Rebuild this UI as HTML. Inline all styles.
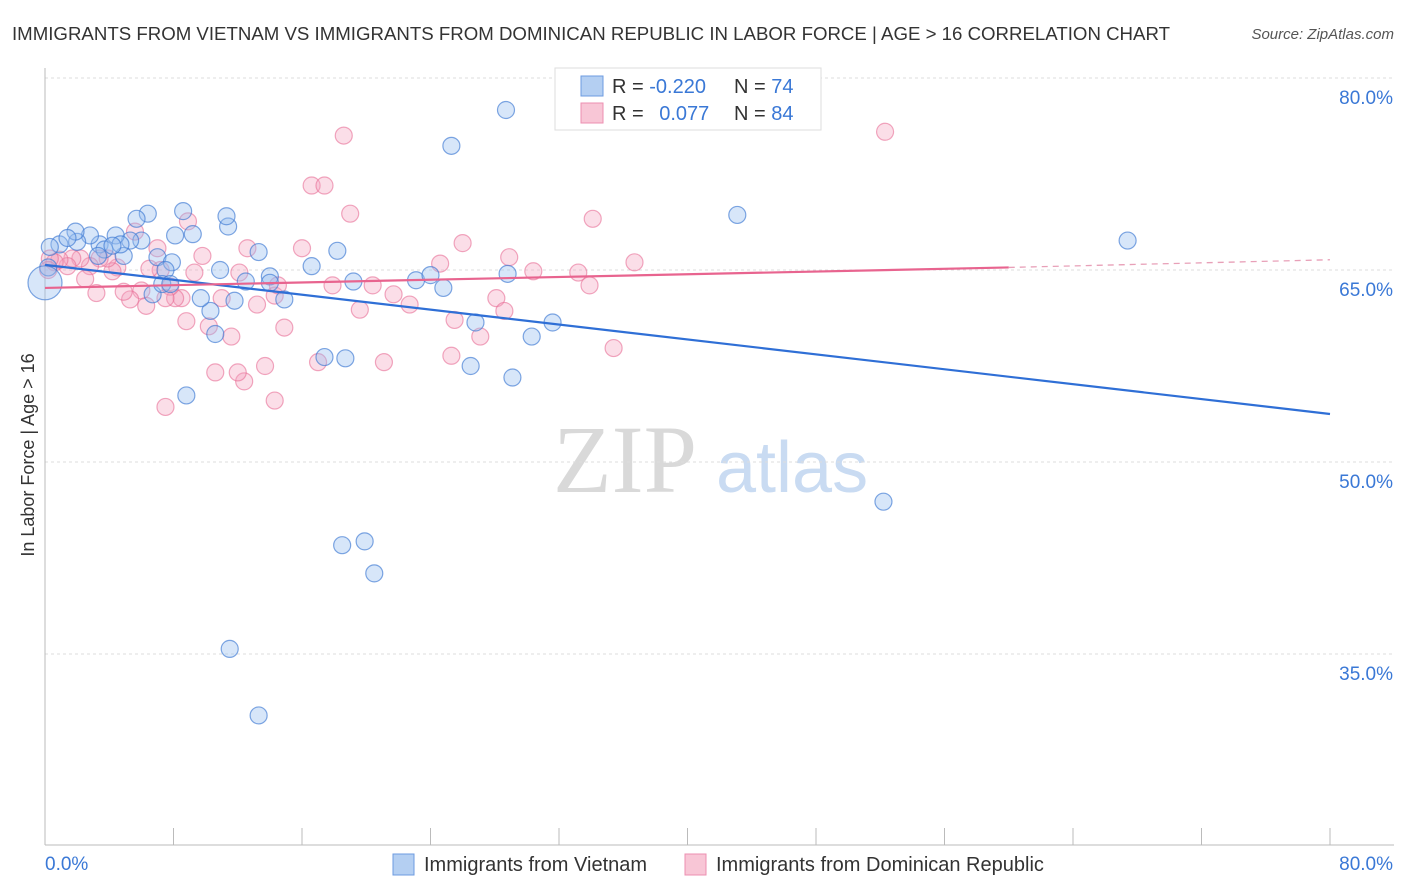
<!DOCTYPE html>
<html><head><meta charset="utf-8">
<style>
body{margin:0;background:#fff;font-family:"Liberation Sans",sans-serif;}
#wrap{position:relative;width:1406px;height:892px;overflow:hidden;}
</style></head>
<body>
<div id="wrap">
<svg id="chart" width="1406" height="892">
  <text x="12" y="40" font-size="18" fill="#333" textLength="1158" lengthAdjust="spacingAndGlyphs">IMMIGRANTS FROM VIETNAM VS IMMIGRANTS FROM DOMINICAN REPUBLIC IN LABOR FORCE | AGE &gt; 16 CORRELATION CHART</text>
  <text x="1394" y="39" font-size="15" fill="#555" text-anchor="end" font-style="italic">Source: ZipAtlas.com</text>
  <g>
    <text x="553" y="492" font-size="96" font-family="Liberation Serif,serif" fill="#d9d9d9">ZIP</text>
    <text x="716" y="492" font-size="72" fill="#c9dbf2">atlas</text>
  </g>
  <g id="grid"></g>
  <g id="axes"></g>
  <g id="pts"></g>
  <g id="lines"></g>
  <g>
    <rect x="555" y="68" width="266" height="62" fill="#fff" stroke="#ddd"/>
    <rect x="581" y="76" width="22" height="20" fill="#b4cff2" stroke="#6d9be0"/>
    <rect x="581" y="103" width="22" height="20" fill="#f8c6d6" stroke="#ec8fb0"/>
    <text x="612" y="93" font-size="20" fill="#333">R = <tspan fill="#3a78d6">-0.220</tspan></text>
    <text x="734" y="93" font-size="20" fill="#333">N = <tspan fill="#3a78d6">74</tspan></text>
    <text x="612" y="120" font-size="20" fill="#333">R = <tspan fill="#3a78d6" dx="10">0.077</tspan></text>
    <text x="734" y="120" font-size="20" fill="#333">N = <tspan fill="#3a78d6">84</tspan></text>
  </g>
  <g>
    <rect x="393" y="854" width="21" height="21" fill="#b4cff2" stroke="#6d9be0"/>
    <text x="424" y="871" font-size="20" fill="#333">Immigrants from Vietnam</text>
    <rect x="685" y="854" width="21" height="21" fill="#f8c6d6" stroke="#ec8fb0"/>
    <text x="716" y="871" font-size="20" fill="#333">Immigrants from Dominican Republic</text>
  </g>
  <text transform="translate(34,455) rotate(-90)" font-size="18" fill="#333" text-anchor="middle">In Labor Force | Age &gt; 16</text>
</svg>
</div>
<script>
const yTicks=[80,65,50,35];
const yTickLabels=["80.0%","65.0%","50.0%","35.0%"];
const xTicks=[0,8,16,24,32,40,48,56,64,72,80];
const xEndLabels=["0.0%","80.0%"];
const vietX=[28.7,25.3,43.1,67.4,52.2,11.5,13.3,18.5,19.9,20.5,8.8,26.5,29.1,18.7,17.4,30.3,31.6,26.8,23.1,24.0,24.8,28.8,19.2,18.2,16.6,14.9,14.0,14.0,10.3,10.6,11.8,9.7,10.9,12.5,13.3,11.4,11.3,9.2,8.6,8.1,6.4,5.7,6.0,7.0,7.9,7.5,6.7,7.3,7.8,5.3,4.4,4.9,3.4,2.8,2.0,0.9,0.3,0.2,3.7,4.7,3.3,1.9,1.4,4.2];
const vietY=[77.5,74.7,69.3,67.3,46.9,35.4,30.2,43.5,43.8,41.3,55.2,57.5,56.6,58.1,58.2,59.8,60.9,60.9,64.2,64.6,63.6,64.7,64.1,66.5,65.3,62.7,64.5,64.0,61.8,60.0,62.6,62.8,65.0,64.1,66.4,68.4,69.2,67.8,69.6,67.7,69.4,69.0,67.3,66.0,65.6,65.0,63.1,63.9,63.9,67.3,67.7,66.1,67.0,67.7,67.2,67.0,66.8,65.2,66.6,67.0,66.1,68.0,67.5,66.9];
const vietBigX=[0.0];
const vietBigY=[64.0];
const domX=[18.6,52.3,16.6,17.4,19.0,34.1,26.0,28.9,36.7,33.2,30.4,33.9,35.4,28.1,28.6,25.5,27.1,25.3,21.1,19.6,20.4,21.7,22.7,24.6,16.0,17.9,17.0,14.9,14.3,14.5,13.7,12.6,12.1,13.2,12.4,12.0,11.6,11.0,10.6,10.2,9.8,9.3,8.9,8.8,8.5,8.1,7.8,7.5,7.5,7.2,7.0,6.5,6.3,6.0,5.6,5.3,4.9,4.5,4.2,3.9,3.4,3.2,2.8,2.5,2.2,1.7,1.4,0.9,0.6,0.3,0.2,14.3];
const domY=[75.5,75.8,71.6,71.6,69.4,69.0,67.1,66.0,65.6,64.8,64.9,63.8,58.9,62.8,61.8,61.1,59.8,58.3,57.8,61.9,63.8,63.1,62.3,65.5,66.7,63.8,57.8,60.5,63.0,63.8,57.5,66.7,64.8,62.3,56.3,57.0,59.8,62.8,57.0,60.6,66.1,64.8,68.8,61.0,62.8,62.8,63.7,62.8,54.3,65.0,66.7,65.1,62.2,63.4,68.0,62.7,63.3,65.2,64.9,65.9,65.9,63.2,65.3,64.3,65.9,65.9,65.3,65.8,65.6,65.9,65.0,54.8];
const vietTrendX=[0,80];
const vietTrendY=[65.4,53.75];
const domTrendX=[0,60,80];
const domTrendY=[63.6,65.2,65.8];

const X=v=>45+v*(1285/80);
const Y=v=>78+(80-v)*12.8;
const NS="http://www.w3.org/2000/svg";
function mk(tag,attrs,parent){const e=document.createElementNS(NS,tag);for(const k in attrs)e.setAttribute(k,attrs[k]);parent.appendChild(e);return e;}
const grid=document.getElementById('grid'),axes=document.getElementById('axes'),pts=document.getElementById('pts'),lines=document.getElementById('lines');
yTicks.forEach((t,i)=>{
  const l=mk('line',{x1:45,x2:1394,y1:Y(t),y2:Y(t),stroke:'#ddd','stroke-dasharray':'3,3'},grid);
  
  
  const tx=mk('text',{x:1393,y:Y(t)+26,'font-size':19,fill:'#3a78d6','text-anchor':'end'},axes);
  tx.textContent=yTickLabels[i];
  
  
});
const ya=mk('line',{x1:45,x2:45,y1:68,y2:845,stroke:'#bbb'},axes);


const xa=mk('line',{x1:45,x2:1394,y1:845,y2:845,stroke:'#bbb'},axes);


xTicks.forEach(t=>{
  const l=mk('line',{x1:X(t),x2:X(t),y1:828,y2:845,stroke:'#bbb'},axes);
  
  
});
const xl0=mk('text',{x:45,y:870,'font-size':19,fill:'#3a78d6'},axes);xl0.textContent=xEndLabels[0];


const xl1=mk('text',{x:1393,y:870,'font-size':19,fill:'#3a78d6','text-anchor':'end'},axes);xl1.textContent=xEndLabels[1];



domX.forEach((x,i)=>{
  const c=mk('circle',{cx:X(x),cy:Y(domY[i]),r:8.5,fill:'rgba(244,160,190,0.35)',stroke:'rgba(232,110,150,0.6)','stroke-width':1.2},pts);
  
  
});
vietX.forEach((x,i)=>{
  const c=mk('circle',{cx:X(x),cy:Y(vietY[i]),r:8.5,fill:'rgba(150,190,240,0.38)',stroke:'rgba(60,120,210,0.65)','stroke-width':1.2},pts);
  
  
});
vietBigX.forEach((x,i)=>{
  const c=mk('circle',{cx:X(x),cy:Y(vietBigY[i]),r:17,fill:'rgba(150,190,240,0.38)',stroke:'rgba(60,120,210,0.65)','stroke-width':1.2},pts);
  
  
});
const vl=mk('line',{x1:X(vietTrendX[0]),y1:Y(vietTrendY[0]),x2:X(vietTrendX[1]),y2:Y(vietTrendY[1]),stroke:'#2f6fd6','stroke-width':2.2},lines);


const dl=mk('line',{x1:X(domTrendX[0]),y1:Y(domTrendY[0]),x2:X(domTrendX[1]),y2:Y(domTrendY[1]),stroke:'#e8648f','stroke-width':2.2},lines);


const dd=mk('line',{x1:X(domTrendX[1]),y1:Y(domTrendY[1]),x2:X(domTrendX[2]),y2:Y(domTrendY[2]),stroke:'#e8a0b8','stroke-width':1.3,'stroke-dasharray':'6,5'},lines);


</script>
</body></html>
